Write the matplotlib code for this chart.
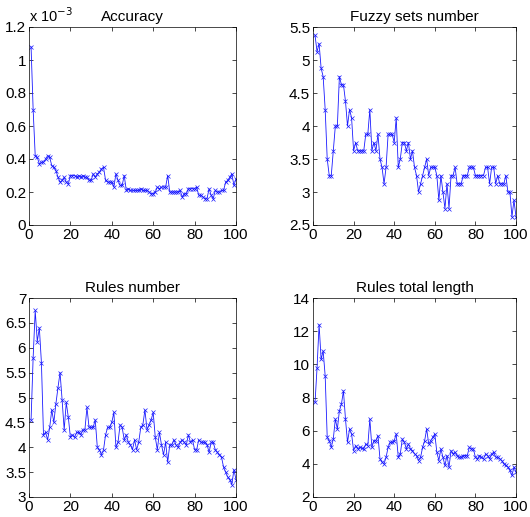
import matplotlib
matplotlib.use("Agg")
import matplotlib.pyplot as plt
from matplotlib.ticker import FormatStrFormatter

plt.rcParams['font.family'] = ['Liberation Sans Narrow', 'Liberation Sans', 'DejaVu Sans']

iterations = list(range(1, 101))

# accuracy values in units of 1e-3
accuracy = [1.08, 0.70, 0.42, 0.41, 0.37, 0.38, 0.38, 0.40, 0.42, 0.41,
            0.36, 0.35, 0.33, 0.29, 0.26, 0.27, 0.29, 0.26, 0.25, 0.30,
            0.30, 0.30, 0.29, 0.30, 0.29, 0.30, 0.29, 0.29, 0.27, 0.27,
            0.31, 0.29, 0.31, 0.32, 0.34, 0.35, 0.27, 0.26, 0.26, 0.26,
            0.23, 0.31, 0.27, 0.24, 0.24, 0.30, 0.21, 0.22, 0.21, 0.21,
            0.21, 0.21, 0.21, 0.22, 0.21, 0.21, 0.21, 0.20, 0.19, 0.19,
            0.20, 0.23, 0.22, 0.23, 0.23, 0.23, 0.30, 0.20, 0.20, 0.20,
            0.20, 0.20, 0.21, 0.17, 0.19, 0.19, 0.22, 0.22, 0.22, 0.22,
            0.23, 0.18, 0.18, 0.17, 0.16, 0.16, 0.22, 0.18, 0.16, 0.21,
            0.20, 0.20, 0.21, 0.21, 0.26, 0.27, 0.29, 0.31, 0.24, 0.28]

fuzzy_sets = [5.375, 5.125, 5.25, 4.875, 4.75, 4.25, 3.5, 3.25, 3.25, 3.625,
              4.0, 4.0, 4.75, 4.625, 4.625, 4.375, 4.0, 4.25, 4.125, 3.625,
              3.75, 3.625, 3.625, 3.625, 3.625, 3.875, 3.875, 4.25, 3.625, 3.75,
              3.625, 3.875, 3.5, 3.375, 3.125, 3.375, 3.875, 3.875, 3.875, 3.75,
              4.125, 3.375, 3.5, 3.75, 3.75, 3.625, 3.75, 3.5, 3.625, 3.375,
              3.25, 3.0, 3.125, 3.25, 3.375, 3.5, 3.25, 3.375, 3.375, 3.375,
              3.25, 2.875, 3.25, 3.0, 2.75, 3.125, 2.75, 3.25, 3.25, 3.375,
              3.125, 3.125, 3.125, 3.25, 3.25, 3.25, 3.375, 3.375, 3.375, 3.25,
              3.25, 3.25, 3.25, 3.25, 3.375, 3.375, 3.125, 3.375, 3.375, 3.125,
              3.25, 3.125, 3.125, 3.125, 3.25, 3.0, 3.0, 2.625, 2.875, 2.625]

rules_number = [4.55, 5.8, 6.75, 6.125, 6.4, 5.7, 4.25, 4.3, 4.15, 4.4,
                4.75, 4.5, 4.875, 5.2, 5.5, 4.95, 4.35, 4.9, 4.6, 4.2,
                4.25, 4.2, 4.3, 4.3, 4.25, 4.35, 4.35, 4.8, 4.4, 4.4,
                4.4, 4.55, 4.0, 3.95, 3.85, 3.95, 4.25, 4.4, 4.4, 4.5,
                4.7, 4.0, 4.1, 4.45, 4.4, 4.15, 4.25, 4.1, 4.05, 3.95,
                4.15, 3.95, 4.1, 4.4, 4.45, 4.75, 4.35, 4.45, 4.55, 4.7,
                4.2, 3.95, 4.3, 4.05, 3.85, 4.1, 3.7, 4.05, 4.05, 4.15,
                4.05, 4.0, 4.1, 4.15, 4.1, 4.05, 4.25, 4.1, 4.15, 3.95,
                3.95, 4.15, 4.1, 4.1, 4.1, 4.05, 3.9, 4.1, 4.1, 3.95,
                3.9, 3.85, 3.8, 3.6, 3.5, 3.4, 3.35, 3.25, 3.55, 3.35]

rules_length = [7.7, 9.8, 12.4, 10.3, 10.8, 9.3, 5.6, 5.4, 5.0, 5.5,
                6.7, 6.1, 7.2, 7.6, 8.4, 6.7, 5.3, 6.1, 5.8, 4.8,
                5.1, 4.9, 5.0, 4.95, 4.9, 5.2, 5.1, 6.7, 5.0, 5.4,
                5.4, 5.7, 4.3, 4.1, 4.0, 4.4, 5.0, 5.3, 5.3, 5.4,
                5.8, 4.4, 4.6, 5.5, 5.3, 4.9, 5.2, 4.9, 4.8, 4.6,
                4.5, 4.2, 4.4, 5.0, 5.4, 6.1, 5.2, 5.4, 5.6, 5.8,
                4.7, 4.2, 4.9, 4.4, 3.9, 4.5, 3.8, 4.8, 4.6, 4.7,
                4.5, 4.4, 4.4, 4.5, 4.5, 4.5, 5.0, 4.9, 4.9, 4.4,
                4.3, 4.5, 4.4, 4.3, 4.6, 4.5, 4.3, 4.6, 4.7, 4.4,
                4.4, 4.3, 4.2, 4.0, 3.9, 3.8, 3.6, 3.3, 3.8, 3.5]

W, H = 530, 517
fig = plt.figure(figsize=(W / 100, H / 100), dpi=100)

def make_axes(left, top, right, bottom):
    return fig.add_axes([left / W, 1 - bottom / H, (right - left) / W, (bottom - top) / H])

panels = [
    (make_axes(29, 27, 236, 225), accuracy, 'Accuracy', (0, 1.2), [0, 0.2, 0.4, 0.6, 0.8, 1, 1.2]),
    (make_axes(313, 27, 516, 225), fuzzy_sets, 'Fuzzy sets number', (2.5, 5.5), [2.5, 3, 3.5, 4, 4.5, 5, 5.5]),
    (make_axes(29, 298, 236, 497), rules_number, 'Rules number', (3, 7), [3, 3.5, 4, 4.5, 5, 5.5, 6, 6.5, 7]),
    (make_axes(313, 298, 516, 497), rules_length, 'Rules total length', (2, 14), [2, 4, 6, 8, 10, 12, 14]),
]

for ax, values, title, ylim, yticks in panels:
    ax.plot(iterations, values, color='#1a1aff', linewidth=0.6,
            marker='x', markersize=3, markeredgewidth=0.5)
    ax.set_xlim(0, 100)
    ax.set_ylim(*ylim)
    ax.set_xticks([0, 20, 40, 60, 80, 100])
    ax.set_yticks(yticks)
    ax.yaxis.set_major_formatter(FormatStrFormatter('%g'))
    ax.set_title(title, fontsize=11, pad=4)
    ax.tick_params(direction='in', top=True, right=True, length=3, width=0.5,
                   labelsize=11, pad=2)
    for s in ax.spines.values():
        s.set_linewidth(0.5)

panels[0][0].text(0, 1.01, r'x 10$^{-3}$', transform=panels[0][0].transAxes,
                  fontsize=10.5, ha='left', va='bottom')

fig.savefig('out.png', dpi=100)
